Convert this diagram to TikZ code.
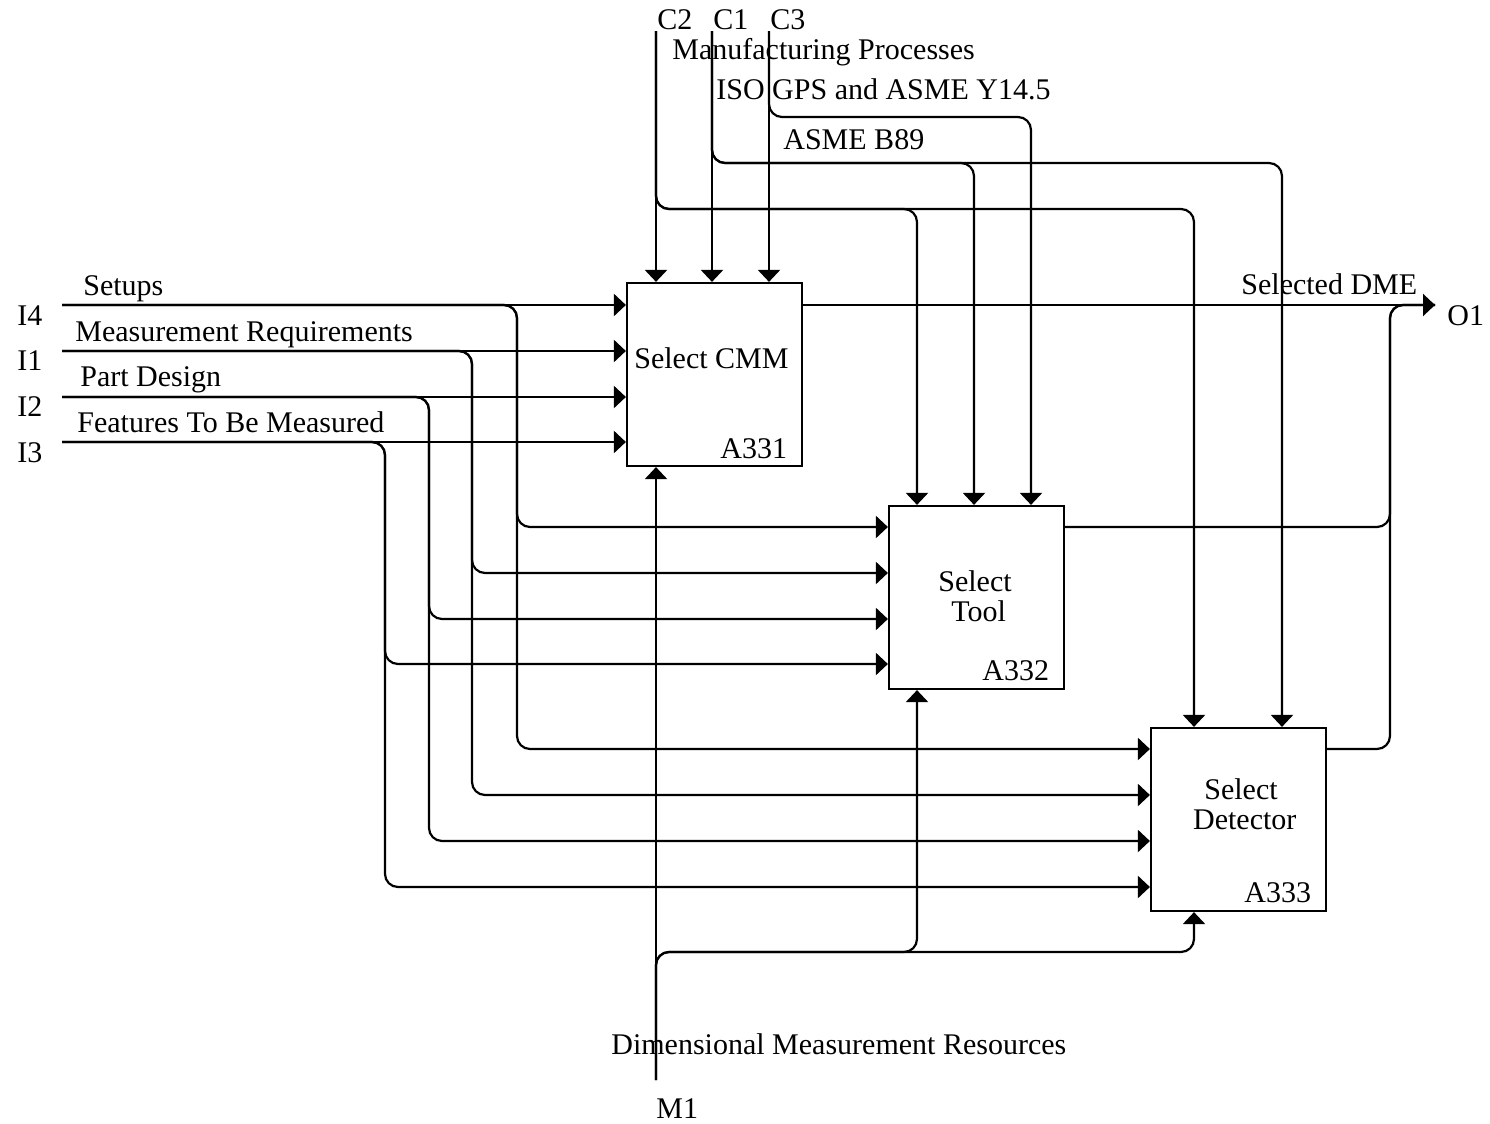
\documentclass[tikz,border=0pt]{standalone}
\usepackage{fontspec}
\setmainfont{Liberation Serif}
\usetikzlibrary{arrows.meta}

\tikzset{
  flow/.style={-{Triangle[length=6pt,width=11pt]}, line width=1.1pt, rounded corners=6.5pt},
  wire/.style={line width=1.1pt, rounded corners=6.5pt},
  fn/.style={draw, line width=1.1pt, minimum width=87.5pt, minimum height=91.5pt, inner sep=0pt},
  lbl/.style={anchor=base west, inner sep=0pt}
}

\begin{document}
\begin{tikzpicture}[x=0.5pt, y=-0.5pt, font=\fontsize{15}{15}\selectfont]
  \useasboundingbox (0,0) rectangle (1490,1124);

  % activity boxes
  \node (a331) [fn] at (714.5,374.5) {};
  \node (a332) [fn] at (976.5,597.5) {};
  \node (a333) [fn] at (1238.5,819.5) {};

  \node (t331) [lbl] at (634,368) {Select CMM};
  \node (n331) [lbl] at (720,458) {A331};
  \node (t332) [anchor=base, inner sep=0pt, align=center] at (975,621) {Select\\ \ Tool};
  \node (n332) [lbl] at (982,680) {A332};
  \node (t333) [anchor=base, inner sep=0pt, align=center] at (1241,829) {Select\\ \ Detector};
  \node (n333) [lbl] at (1244,902) {A333};

  % free ends
  \coordinate (i4) at (62,305);
  \coordinate (i1) at (62,351);
  \coordinate (i2) at (62,397);
  \coordinate (i3) at (62,442);
  \coordinate (c2) at (656,31);
  \coordinate (c1) at (712,31);
  \coordinate (c3) at (769,31);
  \coordinate (o1) at (1435,305);
  \coordinate (m1) at (656,1080);

  % texts
  \node (li4) [lbl] at (17,325) {I4};
  \node (li1) [lbl] at (17,370) {I1};
  \node (li2) [lbl] at (17,416) {I2};
  \node (li3) [lbl] at (17,462) {I3};
  \node (setups) [lbl] at (83,295) {Setups};
  \node (mreq)   [lbl] at (75,341) {Measurement Requirements};
  \node (pdes)   [lbl] at (80,386) {Part Design};
  \node (feat)   [lbl] at (77,432) {Features To Be Measured};
  \node (lc2) [lbl] at (657,29) {C2};
  \node (lc1) [lbl] at (713,29) {C1};
  \node (lc3) [lbl] at (770,29) {C3};
  \node (mproc) [lbl] at (672,59) {Manufacturing Processes};
  \node (iso)   [lbl] at (716,99) {ISO GPS and ASME Y14.5};
  \node (b89)   [lbl] at (783,149) {ASME B89};
  \node (sdme)  [lbl] at (1241,294) {Selected DME};
  \node (lo1)   [lbl] at (1447,325) {O1};
  \node (dmr)   [lbl] at (611,1054) {Dimensional Measurement Resources};
  \node (lm1)   [lbl] at (656,1118) {M1};

  % inputs
  \draw[flow] (i4) -- (i4 -| a331.west);
  \draw[flow] (i1) -- (i1 -| a331.west);
  \draw[flow] (i2) -- (i2 -| a331.west);
  \draw[flow] (i3) -- (i3 -| a331.west);
  \draw[flow] (i4) -| (517,527) -- (a332.west |- 0,527);
  \draw[flow] (i4) -| (517,749) -- (a333.west |- 0,749);
  \draw[flow] (i1) -| (472,573) -- (a332.west |- 0,573);
  \draw[flow] (i1) -| (472,795) -- (a333.west |- 0,795);
  \draw[flow] (i2) -| (429,619) -- (a332.west |- 0,619);
  \draw[flow] (i2) -| (429,841) -- (a333.west |- 0,841);
  \draw[flow] (i3) -| (385,664) -- (a332.west |- 0,664);
  \draw[flow] (i3) -| (385,887) -- (a333.west |- 0,887);

  % controls
  \draw[flow] (c2) -- (c2 |- a331.north);
  \draw[flow] (c1) -- (c1 |- a331.north);
  \draw[flow] (c3) -- (c3 |- a331.north);
  \draw[flow] (c2) |- (917,209) -- (a332.north -| 917,0);
  \draw[flow] (c2) |- (1194,209) -- (a333.north -| 1194,0);
  \draw[flow] (c1) |- (974,163) -- (a332.north -| 974,0);
  \draw[flow] (c1) |- (1282,163) -- (a333.north -| 1282,0);
  \draw[flow] (c3) |- (1031,117) -- (a332.north -| 1031,0);

  % outputs
  \draw[flow] (a331.east |- o1) -- (o1);
  \draw[wire] (a332.east |- 0,527) -| (1390,305) -- (o1);
  \draw[wire] (a333.east |- 0,749) -| (1390,305) -- (o1);

  % mechanism
  \draw[flow] (m1) -- (m1 |- a331.south);
  \draw[flow] (m1) |- (917,952) -- (a332.south -| 917,0);
  \draw[flow] (m1) |- (1194,952) -- (a333.south -| 1194,0);
\end{tikzpicture}
\end{document}
